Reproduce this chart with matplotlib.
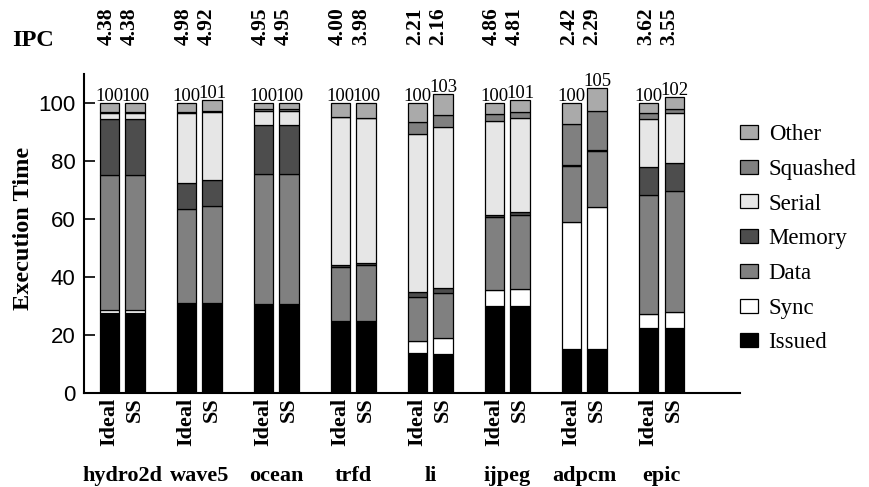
import matplotlib.pyplot as plt
import matplotlib.transforms as mtransforms
import numpy as np

# Benchmarks and IPC values (Ideal, SS)
benchmarks = ['hydro2d', 'wave5', 'ocean', 'trfd', 'li', 'ijpeg', 'adpcm', 'epic']
ipc_ideal = ['4.38', '4.98', '4.95', '4.00', '2.21', '4.86', '2.42', '3.62']
ipc_ss = ['4.38', '4.92', '4.95', '3.98', '2.16', '4.81', '2.29', '3.55']

# Execution time breakdown, bottom to top
categories = ['Issued', 'Sync', 'Data', 'Memory', 'Serial', 'Squashed', 'Other']
colors = ['#000000', '#ffffff', '#808080', '#4d4d4d', '#e6e6e6', '#808080', '#aaaaaa']

ideal = {
    'Issued':   [27.4, 30.8, 30.6, 24.7, 13.6, 30.0, 15.0, 22.2],
    'Sync':     [1.1, 0.2, 0.1, 0.1, 4.3, 5.4, 44.0, 4.9],
    'Data':     [46.6, 32.4, 44.7, 18.7, 15.0, 25.1, 19.3, 41.1],
    'Memory':   [19.3, 9.0, 17.0, 0.5, 1.7, 0.8, 0.2, 9.5],
    'Serial':   [2.0, 24.0, 4.8, 51.0, 54.6, 32.5, 0.0, 16.6],
    'Squashed': [0.3, 0.3, 0.5, 0.2, 4.0, 2.2, 14.0, 2.0],
    'Other':    [3.3, 3.3, 2.3, 4.8, 6.8, 4.0, 7.5, 3.7],
}
ss = {
    'Issued':   [27.4, 30.5, 30.6, 24.7, 13.4, 30.0, 15.0, 22.2],
    'Sync':     [1.1, 0.5, 0.1, 0.1, 5.4, 5.9, 49.1, 5.7],
    'Data':     [46.6, 33.4, 44.7, 19.2, 15.5, 25.5, 19.4, 41.6],
    'Memory':   [19.3, 8.9, 17.0, 0.8, 1.7, 0.8, 0.2, 9.6],
    'Serial':   [2.0, 23.6, 4.8, 49.8, 55.7, 32.6, 0.0, 17.2],
    'Squashed': [0.3, 0.4, 0.5, 0.2, 3.9, 2.1, 13.6, 1.4],
    'Other':    [3.3, 3.7, 2.3, 5.2, 7.4, 4.1, 7.7, 4.3],
}

serif = 'Liberation Serif'
sans = 'Liberation Sans'

fig = plt.figure(figsize=(8.69, 4.87), dpi=100)
ax = fig.add_axes([84/869, (487-392.7)/487, (740-84)/869, (392.7-73.7)/487])

x = np.arange(len(benchmarks)) * 3
width = 0.76
handles = []
for pos, data in [(x, ideal), (x + 1, ss)]:
    bottom = np.zeros(len(benchmarks))
    for cat, col in zip(categories, colors):
        vals = np.array(data[cat])
        bars = ax.bar(pos, vals, width, bottom=bottom, color=col,
                      edgecolor='black', linewidth=0.9)
        if pos is x:
            handles.append(bars)
        bottom += vals
    for xi, total in zip(pos, bottom):
        ax.annotate(f'{round(total):d}', (xi, total), xytext=(0, 1.5),
                    textcoords='offset points', ha='center', va='baseline',
                    fontsize=13.5, family=serif)

ax.set_xlim(-0.99, 24.56)
ax.set_ylim(0, 110)
ax.set_yticks([0, 20, 40, 60, 80, 100])
ax.tick_params(axis='y', direction='in', length=8, width=1.2, pad=6,
               labelsize=16)
for lbl in ax.get_yticklabels():
    lbl.set_family(sans)

xt = np.concatenate([x, x + 1])
ax.set_xticks(xt)
ax.set_xticklabels(['Ideal'] * len(x) + ['SS'] * len(x), rotation=90,
                   fontsize=16, fontweight='bold', family=serif)
ax.tick_params(axis='x', length=0, pad=3.5)

for s in ['top', 'right']:
    ax.spines[s].set_visible(False)
for s in ['left', 'bottom']:
    ax.spines[s].set_linewidth(1.5)

trans = mtransforms.blended_transform_factory(ax.transData, fig.transFigure)
# IPC values on top
for xi, a, b in zip(x, ipc_ideal, ipc_ss):
    ax.text(xi - 0.1, 0.9076, a, transform=trans, rotation=90, ha='center',
            va='bottom', fontsize=15.5, fontweight='bold', family=serif)
    ax.text(xi + 0.8, 0.9076, b, transform=trans, rotation=90, ha='center',
            va='bottom', fontsize=15.5, fontweight='bold', family=serif)
# benchmark names
for xi, name in zip(x, benchmarks):
    ax.text(xi + 0.5, 0.012, name, transform=trans, ha='center',
            va='baseline', fontsize=16, fontweight='bold', family=serif)

fig.text(11.7/869, (487-40)/487, 'IPC', ha='left', va='center',
         fontsize=17.5, fontweight='bold', family=serif)
fig.text(24/869, (487-228)/487, 'Execution Time', rotation=90, ha='center',
         va='center', fontsize=17.5, fontweight='bold', family=serif)

ax.legend(handles[::-1], categories[::-1], loc='upper left',
          bbox_to_anchor=(740/869, (487-124)/487),
          bbox_transform=fig.transFigure, frameon=False,
          prop={'family': serif, 'size': 16.5}, handlelength=0.8,
          handleheight=0.55, handletextpad=0.45, labelspacing=0.6,
          borderpad=0, borderaxespad=0)

plt.savefig('out.png', dpi=100)
